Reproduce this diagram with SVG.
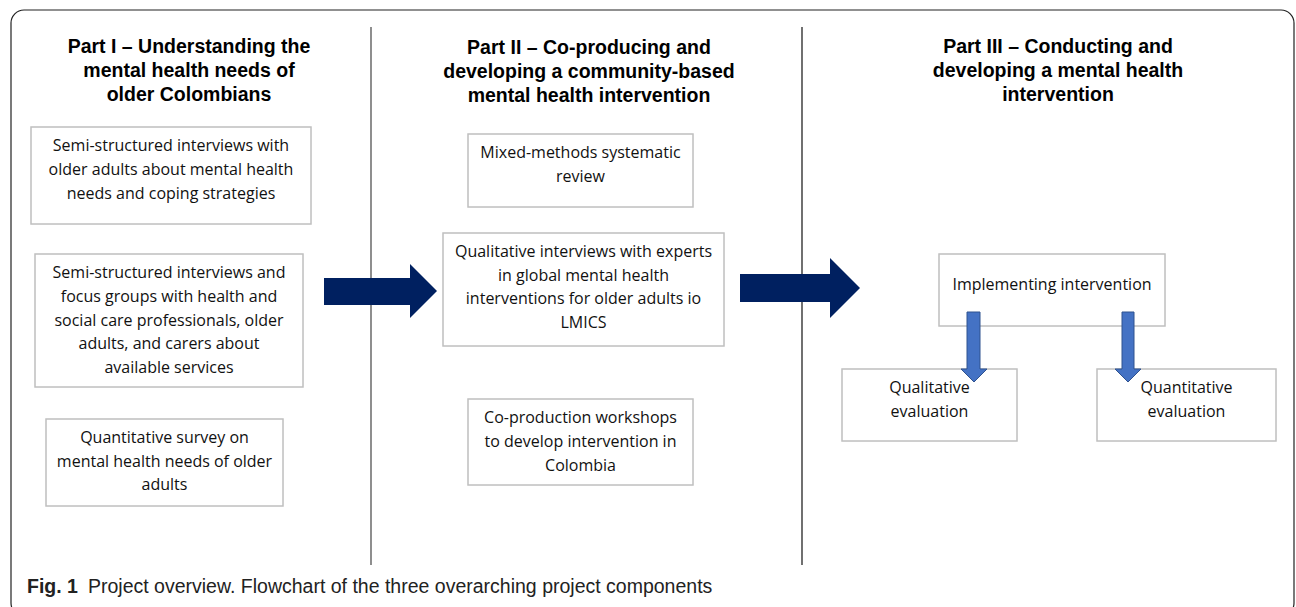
<svg xmlns="http://www.w3.org/2000/svg" width="1296" height="607" viewBox="0 0 1296 607">
<style>
.frame{fill:none;stroke:#222;stroke-width:1.2}
.div{stroke:#444;stroke-width:1.2}
.box{fill:#fff;stroke:#bfbfbf;stroke-width:1.5}
.hd{font-family:"Liberation Sans",Arial,sans-serif;font-weight:bold;font-size:19.5px;fill:#000;text-anchor:middle}
.tx{font-family:"Open Sans","Noto Sans",sans-serif;font-size:16px;fill:#111;text-anchor:middle}
.big{fill:#002060}
.small{fill:#4472C4;stroke:#2F528F;stroke-width:1}
.cap{font-family:"Liberation Sans",Arial,sans-serif;font-size:19.5px;fill:#222}
</style>
<rect width="1296" height="607" fill="#fff"/>
<rect class="frame" x="11" y="10" width="1283" height="606" rx="13"/>
<line class="div" x1="371" y1="27" x2="371" y2="565"/>
<line class="div" x1="802" y1="27" x2="802" y2="565" style="stroke:#111"/>

<g id="header1">
<text class="hd" x="189" y="53">Part I – Understanding the</text>
<text class="hd" x="189" y="77">mental health needs of</text>
<text class="hd" x="189" y="101">older Colombians</text>
</g>
<g id="header2">
<text class="hd" x="589" y="54">Part II – Co-producing and</text>
<text class="hd" x="589" y="78">developing a community-based</text>
<text class="hd" x="589" y="102">mental health intervention</text>
</g>
<g id="header3">
<text class="hd" x="1058" y="53">Part III – Conducting and</text>
<text class="hd" x="1058" y="77">developing a mental health</text>
<text class="hd" x="1058" y="101">intervention</text>
</g>

<g id="p1box1">
<rect class="box" x="31" y="127" width="280" height="97"/>
<text class="tx" x="171" y="151">Semi-structured interviews with</text>
<text class="tx" x="171" y="175">older adults about mental health</text>
<text class="tx" x="171" y="199">needs and coping strategies</text>
</g>
<g id="p1box2">
<rect class="box" x="35" y="254" width="268" height="133"/>
<text class="tx" x="169" y="278">Semi-structured interviews and</text>
<text class="tx" x="169" y="302">focus groups with health and</text>
<text class="tx" x="169" y="326">social care professionals, older</text>
<text class="tx" x="169" y="349">adults, and carers about</text>
<text class="tx" x="169" y="373">available services</text>
</g>
<g id="p1box3">
<rect class="box" x="46" y="419" width="237" height="87"/>
<text class="tx" x="164.5" y="443">Quantitative survey on</text>
<text class="tx" x="164.5" y="467">mental health needs of older</text>
<text class="tx" x="164.5" y="490">adults</text>
</g>

<g id="p2box1">
<rect class="box" x="468" y="134" width="225" height="73"/>
<text class="tx" x="580.5" y="158">Mixed-methods systematic</text>
<text class="tx" x="580.5" y="182">review</text>
</g>
<g id="p2box2">
<rect class="box" x="443" y="233" width="281" height="113"/>
<text class="tx" x="583.5" y="257">Qualitative interviews with experts</text>
<text class="tx" x="583.5" y="281">in global mental health</text>
<text class="tx" x="583.5" y="304">interventions for older adults io</text>
<text class="tx" x="583.5" y="328">LMICS</text>
</g>
<g id="p2box3">
<rect class="box" x="468" y="399" width="225" height="86"/>
<text class="tx" x="580.5" y="423">Co-production workshops</text>
<text class="tx" x="580.5" y="447">to develop intervention in</text>
<text class="tx" x="580.5" y="471">Colombia</text>
</g>

<g id="p3impl">
<rect class="box" x="939" y="254" width="226" height="72"/>
<text class="tx" x="1052" y="290">Implementing intervention</text>
</g>
<g id="p3qual">
<rect class="box" x="842" y="369" width="175" height="72"/>
<text class="tx" x="929.5" y="393">Qualitative</text>
<text class="tx" x="929.5" y="417">evaluation</text>
</g>
<g id="p3quant">
<rect class="box" x="1097" y="369" width="179" height="72"/>
<text class="tx" x="1186.5" y="393">Quantitative</text>
<text class="tx" x="1186.5" y="417">evaluation</text>
</g>

<g id="connectors">
<polygon class="big" points="324,278 410,278 410,264 437,291 410,318 410,305 324,305"/>
<polygon class="big" points="740,274 830,274 830,258 860,288 830,318 830,302 740,302"/>
<polygon class="small" points="967,312 980,312 980,369 987,369 974,382 961,369 967,369"/>
<polygon class="small" points="1122,312 1134,312 1134,369 1141,369 1128,382 1115,369 1122,369"/>
</g>

<g id="caption">
<text class="cap" x="27" y="593"><tspan font-weight="bold">Fig. 1</tspan><tspan x="88">Project overview. Flowchart of the three overarching project components</tspan></text>
</g>
</svg>
